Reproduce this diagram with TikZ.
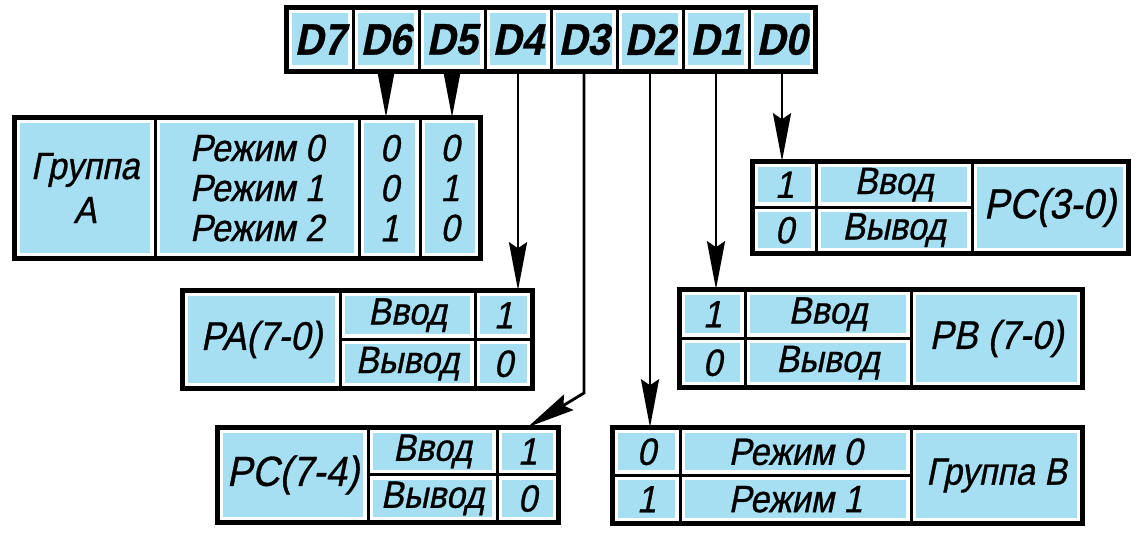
\documentclass[tikz,border=0pt]{standalone}
\usepackage{fontspec}
\setmainfont{Liberation Sans}[FakeSlant=0.2, FakeStretch=0.9, FakeBold=0.8]
\usetikzlibrary{arrows.meta}
\definecolor{cellblue}{RGB}{166,222,242}

\tikzset{
  cell/.style={draw=black, line width=1.5pt, fill=white, inner sep=0pt, align=center,
    font=\fontsize{38}{40}\selectfont,
    path picture={\fill[cellblue] ([shift={(5pt,5pt)}]path picture bounding box.south west)
      rectangle ([shift={(-5pt,-5pt)}]path picture bounding box.north east);}},
  frame/.style={draw=black, line width=2.5pt},
  wire/.style={-{Stealth[length=24pt, width=9pt, inset=3pt]}, line width=1.4pt}
}

\begin{document}
\begin{tikzpicture}[x=1pt, y=1pt, scale=0.5, transform shape]
    \useasboundingbox (0,0) rectangle (1140,-533);

    % Data bits D7..D0
    \foreach \b [count=\i from 0] in {7,6,...,0} {
        \node[cell, minimum width=66, minimum height=62, font=\fontsize{44}{44}\selectfont\bfseries] (D\b) at (320+66*\i, -39.5) {D\b};
    }
    \draw[frame] (D7.north west) rectangle (D0.south east);

    % Group A
    \node[cell, minimum width=140, minimum height=140, font=\fontsize{38}{44}\selectfont] (GA_L) at (85,-188) {Группа\\А};
    \node[cell, minimum width=204, minimum height=140] (GA_M) at (257,-188) {Режим 0\\Режим 1\\Режим 2};
    \node[cell, minimum width=61, minimum height=140] (GA_6) at (389.5,-188) {0\\0\\1};
    \node[cell, minimum width=60, minimum height=140] (GA_5) at (450,-188) {0\\1\\0};
    \draw[frame] (GA_L.north west) rectangle (GA_5.south east);

    % Port C, low half
    \node[cell, minimum width=63, minimum height=45.5] (PCL_1) at (784.5,-184.75) {1};
    \node[cell, minimum width=63, minimum height=45.5] (PCL_0) at (784.5,-230.25) {0};
    \node[cell, minimum width=156, minimum height=45.5] (PCL_IN) at (894,-184.75) {Ввод};
    \node[cell, minimum width=156, minimum height=45.5] (PCL_OUT) at (894,-230.25) {Вывод};
    \node[cell, minimum width=156, minimum height=91, font=\fontsize{42}{42}\selectfont] (PCL) at (1050,-207.5) {PC(3-0)};
    \draw[frame] (PCL_1.north west) rectangle (PCL.south east);

    % Port A
    \node[cell, minimum width=157, minimum height=97, font=\fontsize{40}{40}\selectfont] (PA) at (261.5,-339.5) {PA(7-0)};
    \node[cell, minimum width=135, minimum height=48.5] (PA_IN) at (407.5,-315.25) {Ввод};
    \node[cell, minimum width=135, minimum height=48.5] (PA_OUT) at (407.5,-363.75) {Вывод};
    \node[cell, minimum width=57, minimum height=48.5] (PA_1) at (503.5,-315.25) {1};
    \node[cell, minimum width=57, minimum height=48.5] (PA_0) at (503.5,-363.75) {0};
    \draw[frame] (PA.north west) rectangle (PA_0.south east);

    % Port B
    \node[cell, minimum width=65, minimum height=48.5] (PB_1) at (712.5,-314.25) {1};
    \node[cell, minimum width=65, minimum height=48.5] (PB_0) at (712.5,-362.75) {0};
    \node[cell, minimum width=166, minimum height=48.5] (PB_IN) at (828,-314.25) {Ввод};
    \node[cell, minimum width=166, minimum height=48.5] (PB_OUT) at (828,-362.75) {Вывод};
    \node[cell, minimum width=171, minimum height=97, font=\fontsize{40}{40}\selectfont] (PB) at (996.5,-338.5) {PB (7-0)};
    \draw[frame] (PB_1.north west) rectangle (PB.south east);

    % Port C, high half
    \node[cell, minimum width=150, minimum height=94, font=\fontsize{42}{42}\selectfont] (PCH) at (293,-475) {PC(7-4)};
    \node[cell, minimum width=129, minimum height=47] (PCH_IN) at (432.5,-451.5) {Ввод};
    \node[cell, minimum width=129, minimum height=47] (PCH_OUT) at (432.5,-498.5) {Вывод};
    \node[cell, minimum width=61, minimum height=47] (PCH_1) at (527.5,-451.5) {1};
    \node[cell, minimum width=61, minimum height=47] (PCH_0) at (527.5,-498.5) {0};
    \draw[frame] (PCH.north west) rectangle (PCH_0.south east);

    % Group B
    \node[cell, minimum width=67, minimum height=47.5] (GB_0) at (646.5,-451.75) {0};
    \node[cell, minimum width=67, minimum height=47.5] (GB_1) at (646.5,-499.25) {1};
    \node[cell, minimum width=231, minimum height=47.5] (GB_M0) at (795.5,-451.75) {Режим 0};
    \node[cell, minimum width=231, minimum height=47.5] (GB_M1) at (795.5,-499.25) {Режим 1};
    \node[cell, minimum width=171, minimum height=95, font=\fontsize{38}{40}\selectfont] (GB) at (996.5,-475.5) {Группа В};
    \draw[frame] (GB_0.north west) rectangle (GB.south east);

    % Bit connections
    \coordinate (D3_bend) at (584,-393);
    \draw[wire] (D6.south) -- (D6.south |- GA_6.north);
    \draw[wire] (D5.south) -- (D5.south |- GA_5.north);
    \draw[wire] (D4.south) -- (D4.south |- PA_1.north);
    \draw[wire] (D3.south) -- (D3_bend) -- (PCH_1.north);
    \draw[wire] (D2.south) -- (D2.south |- GB_0.north);
    \draw[wire] (D1.south) -- (D1.south |- PB_1.north);
    \draw[wire] (D0.south) -- (D0.south |- PCL_1.north);
\end{tikzpicture}
\end{document}
